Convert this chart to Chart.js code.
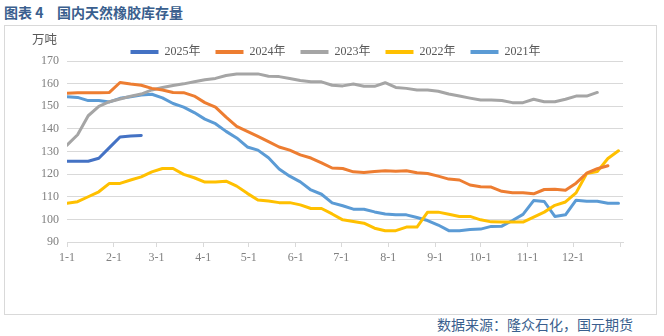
<!DOCTYPE html>
<html>
<head>
<meta charset="utf-8">
<script src="https://cdn.jsdelivr.net/npm/chart.js@4.4.1/dist/chart.umd.min.js"></script>
<style>
  body { margin: 0; width: 664px; height: 336px; background: #fff; position: relative; overflow: hidden;
         font-family: "Noto Sans CJK SC", sans-serif; }
  .hd { position: absolute; top: 5px; font-size: 14px; line-height: 14px; font-weight: bold; color: #3a5f8e; white-space: pre; }
  #frame { position: absolute; left: 4px; top: 25px; width: 651px; height: 288px; border: 1px solid #d9d9d9; }
  #frame canvas { position: absolute; left: 0; top: 0; }
  #unit { position: absolute; left: 32px; top: 34px; font-size: 12.5px; line-height: 13px; color: #595959;
          font-family: "Liberation Serif", "Noto Sans CJK SC", serif; }
  #source { position: absolute; left: 437px; top: 317px; font-size: 14px; line-height: 14px; color: #3a5f8e; }
</style>
</head>
<body>
<div class="hd" style="left:4px">图表 4</div>
<div class="hd" style="left:57px">国内天然橡胶库存量</div>
<div id="frame"><canvas id="chart" width="619" height="287"></canvas></div>
<div id="unit">万吨</div>
<div id="source">数据来源：隆众石化，国元期货</div>

<script>
// weekly points, x = day of year
const weekDays = [0, 7, 14, 21, 28, 35, 42, 49, 56, 63, 70, 77, 84, 91, 98, 105, 112, 119, 126, 133,
  140, 147, 154, 161, 168, 175, 182, 189, 196, 203, 210, 217, 224, 231, 238, 245, 252, 259, 266, 273,
  280, 287, 294, 301, 308, 315, 322, 329, 336, 343, 350, 357, 364];
const monthDays = [0, 31, 59, 90, 120, 151, 181, 212, 243, 273, 304, 334, 365];
const monthLabels = ["1-1", "2-1", "3-1", "4-1", "5-1", "6-1", "7-1", "8-1", "9-1", "10-1", "11-1", "12-1", ""];
const names = ["2025年", "2024年", "2023年", "2022年", "2021年"];

const s2025 = [125.7, 125.7, 125.7, 127.0, 131.7, 136.4, 136.8, 137.1];
const s2024 = [155.7, 156.0, 156.0, 156.0, 156.1, 160.5, 159.8, 159.3, 157.9, 157.2,
  156.1, 156.0, 154.5, 151.6, 149.6, 145.2, 141.1, 138.9, 136.7, 134.4,
  132.0, 130.6, 128.5, 127.1, 125.0, 122.7, 122.5, 121.0, 120.7, 121.2,
  121.5, 121.3, 121.5, 120.6, 120.3, 119.1, 117.8, 117.4, 115.2, 114.4,
  114.3, 112.4, 111.8, 111.8, 111.3, 113.2, 113.3, 112.9, 116.0, 120.4,
  122.4, 123.7];
const s2023 = [132.8, 137.4, 145.8, 149.9, 152.0, 153.2, 154.4, 155.4, 157.2, 158.3,
  159.2, 159.9, 160.8, 161.7, 162.3, 163.6, 164.3, 164.3, 164.3, 163.3,
  163.1, 162.3, 161.4, 160.8, 160.8, 159.3, 159.0, 159.8, 158.8, 158.8,
  160.4, 158.3, 157.9, 157.2, 157.2, 156.6, 155.4, 154.5, 153.6, 152.8,
  152.8, 152.5, 151.6, 151.6, 153.1, 152.0, 152.0, 153.1, 154.5, 154.5,
  156.1];
const s2022 = [107.1, 107.8, 110.0, 112.2, 115.9, 115.9, 117.4, 118.8, 121.0, 122.5,
  122.5, 119.9, 118.4, 116.5, 116.5, 116.9, 114.7, 111.5, 108.6, 108.1,
  107.4, 107.4, 106.4, 104.8, 104.8, 102.4, 99.8, 99.1, 98.3, 96.1,
  95.0, 95.0, 96.6, 96.6, 103.2, 103.2, 102.3, 101.3, 101.3, 99.8,
  98.9, 98.8, 98.8, 98.8, 101.0, 103.2, 106.2, 107.7, 111.7, 120.3,
  121.1, 126.9, 130.3];
const s2021 = [154.2, 153.9, 152.5, 152.5, 151.9, 153.5, 154.2, 155.0, 155.3, 153.7,
  151.2, 149.6, 147.2, 144.3, 142.3, 138.9, 136.0, 132.0, 130.6, 127.2,
  122.3, 119.1, 116.6, 113.0, 111.1, 107.3, 106.0, 104.5, 104.5, 103.3,
  102.4, 102.0, 102.0, 100.8, 99.5, 97.5, 95.0, 95.0, 95.5, 95.7,
  96.9, 97.0, 99.5, 102.2, 108.3, 107.9, 101.3, 102.0, 108.5, 108.0,
  108.0, 107.1, 107.1];

const colors = ["#4472c4", "#ed7d31", "#a5a5a5", "#ffc000", "#5b9bd5"];
const series = [s2025, s2024, s2023, s2022, s2021];
const serif = "'Liberation Serif', 'Noto Sans CJK SC', serif";

// legend sits a bit right of the canvas centre in the original
const legendShift = {
  id: "legendShift",
  afterLayout(chart) {
    chart.legend.left += 6;
    chart.legend.right += 6;
  }
};

new Chart(document.getElementById("chart"), {
  type: "line",
  data: {
    datasets: series.map((vals, k) => ({
      label: names[k],
      data: vals.map((v, i) => ({ x: weekDays[i], y: v })),
      borderColor: colors[k],
      backgroundColor: colors[k],
      borderWidth: 3,
      pointRadius: 0,
      borderCapStyle: "round",
      borderJoinStyle: "round",
      tension: 0
    }))
  },
  options: {
    responsive: false,
    animation: false,
    devicePixelRatio: 1,
    layout: { padding: { top: 5, left: 30, right: 0, bottom: 0 } },
    plugins: {
      tooltip: { enabled: false },
      legend: {
        position: "top",
        maxHeight: 30,
        labels: {
          boxWidth: 28,
          boxHeight: 4,
          padding: 15,
          color: "#595959",
          font: { family: serif, size: 12 },
          generateLabels: chart =>
            Chart.defaults.plugins.legend.labels.generateLabels(chart).map(it => ({
              ...it, lineWidth: 0, fillStyle: it.strokeStyle
            }))
        }
      }
    },
    scales: {
      x: {
        type: "linear",
        min: 0,
        max: 367,
        afterBuildTicks: s => { s.ticks = monthDays.map(v => ({ value: v })); },
        afterFit: s => { s.height = 71; },
        ticks: {
          autoSkip: false,
          maxRotation: 0,
          padding: 4,
          color: "#808080",
          font: { family: serif, size: 12 },
          callback: (v, i) => monthLabels[i]
        },
        grid: { drawOnChartArea: false, drawTicks: true, tickLength: 5, color: "#d9d9d9" },
        border: { display: true, color: "#d9d9d9" }
      },
      y: {
        min: 90,
        max: 170,
        afterFit: s => { s.width = 32; },
        ticks: {
          stepSize: 10,
          padding: 8,
          color: "#808080",
          font: { family: serif, size: 12 }
        },
        grid: { color: "#d9d9d9", drawTicks: false },
        border: { display: false }
      }
    }
  },
  plugins: [legendShift]
});
</script>
</body>
</html>
